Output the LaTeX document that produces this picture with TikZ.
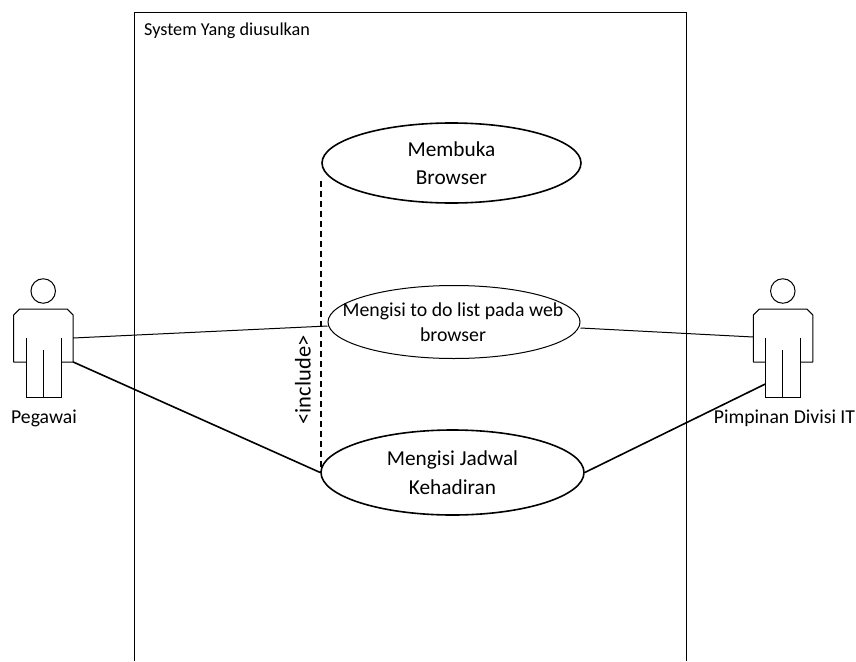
\documentclass[tikz,border=0pt]{standalone}
\usepackage{fontspec}
\setmainfont{Carlito}
\usetikzlibrary{shapes.geometric}
\tikzset{
  thinln/.style={draw=black,line width=1pt},
  thickln/.style={draw=black,line width=1.6pt},
  uc/.style={shape=ellipse,draw=black,fill=white,inner sep=0pt,align=center,font=\fontsize{21.3}{28}\selectfont},
  lbl/.style={inner sep=0pt,font=\fontsize{18.2}{22}\selectfont},
}
\newcommand{\actor}[2]{%
  \begin{scope}[shift={(#1,0)}]
    \node[circle,draw=black,line width=1pt,minimum size=24.5pt,inner sep=0pt] (#2head) at (29.5,291) {};
    \coordinate (#2armL) at (0,362);
    \coordinate (#2armR) at (59.5,362);
    \coordinate (#2side) at (59.5,338);
    \coordinate (#2sideL) at (0,337);
    \coordinate (#2leg) at (12,384);
    \draw[line width=1pt,line join=round] (12.5,362) -- (0,362) -- (0,315) -- (6,309) -- (53.5,309) -- (59.5,315) -- (59.5,362) -- (47.5,362);
    \draw[line width=1.1pt] (12.5,338) -- (12.5,397.6) -- (47.5,397.6) -- (47.5,338);
    \draw[line width=1.1pt] (29.5,350) -- (29.5,397.6);
  \end{scope}}
\begin{document}
\begin{tikzpicture}[x=1pt,y=-1pt]
\useasboundingbox (0,0) rectangle (856,661);
\coordinate (boxBL) at (134,661);
\coordinate (boxTL) at (134,13);
\coordinate (boxTR) at (686,13);
\coordinate (boxBR) at (686,661);
\draw[thinln] (boxBL) -- (boxTL) -- (boxTR) -- (boxBR);
\node[lbl,anchor=west] (sys) at (144,31) {System Yang diusulkan};
\actor{13.7}{p}
\actor{753.3}{q}
\node[uc,line width=1.6pt,minimum width=259pt,minimum height=80pt] (buka) at (451.5,163) {Membuka\\Browser};
\node[uc,line width=1pt,minimum width=252pt,minimum height=73pt] (isi) at (454,322) {};
\node[uc,line width=1.6pt,minimum width=263pt,minimum height=85pt,font=\fontsize{21.3}{29}\selectfont] (jadwal) at (452.5,472.5) {Mengisi Jadwal\\Kehadiran};
\node[inner sep=0pt,align=center,font=\fontsize{19.8}{25}\selectfont] (isit) at (453,322) {Mengisi to do list pada web\\browser};
\node[lbl,font=\fontsize{19.7}{22}\selectfont] (peg) at (44,418) {Pegawai};
\node[lbl,font=\fontsize{19.7}{22}\selectfont] (pim) at (784.5,418) {Pimpinan Divisi IT};
\coordinate (dashT) at (321,181);
\coordinate (dashB) at (321,472);
\draw[line width=1.3pt,dash pattern=on 6pt off 4pt] (dashT) -- (dashB);
\node[rotate=90,inner sep=0pt,font=\fontsize{22.5}{26}\selectfont] (inc) at (303,380) {<include>};
\coordinate (isiW) at ([yshift=-4pt]isi.west);
\coordinate (isiE) at ([yshift=-6pt]isi.east);
\draw[thinln] (pside) -- (isiW);
\draw[thickln] (parmR) -- (jadwal.west);
\draw[thinln] (isiE) -- (qsideL);
\draw[thickln] (jadwal.east) -- (qleg);
\end{tikzpicture}
\end{document}
